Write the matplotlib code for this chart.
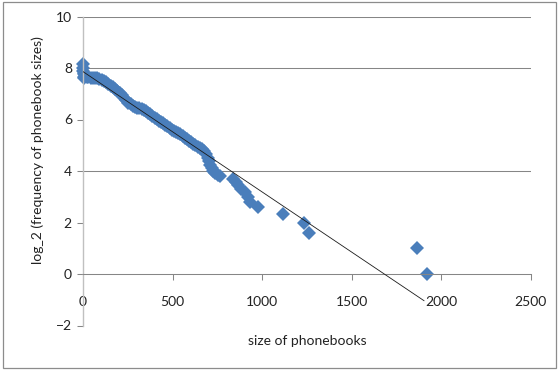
import matplotlib
matplotlib.use('Agg')
from matplotlib import pyplot as plt
from matplotlib.patches import Rectangle

plt.rcParams['font.family'] = ['Lato', 'DejaVu Sans']

# size of phonebook vs log_2 of how many phonebooks have that size
sizes = [0, 0, 2, 3, 4, 7, 8, 12, 20, 30, 42, 55, 68, 80, 92, 105, 118, 130,
         142, 155, 168, 180, 192, 205, 218, 230, 242, 254, 266, 278, 290, 302,
         315, 328, 340, 352, 364, 376, 388, 400, 412, 424, 436, 448, 460, 472,
         484, 496, 508, 520, 532, 544, 556, 568, 580, 592, 604, 616, 628, 640,
         652, 664, 676, 686, 696, 704, 712, 720, 728, 738, 752, 764,
         840, 855, 868, 885, 905, 922, 935, 980, 1120, 1232, 1262, 1866, 1920]
log_freq = [8.17, 8.0, 7.9, 7.65, 7.8, 7.75, 7.6, 7.7, 7.66, 7.64, 7.62, 7.62,
            7.63, 7.6, 7.58, 7.55, 7.5, 7.44, 7.38, 7.32, 7.25, 7.18, 7.1,
            7.04, 6.94, 6.84, 6.74, 6.66, 6.6, 6.54, 6.48, 6.45, 6.43, 6.41,
            6.38, 6.33, 6.27, 6.2, 6.13, 6.07, 6.01, 5.96, 5.91, 5.85, 5.79,
            5.73, 5.67, 5.61, 5.56, 5.52, 5.48, 5.43, 5.37, 5.3, 5.24, 5.18,
            5.12, 5.06, 5.0, 4.93, 4.88, 4.84, 4.76, 4.66, 4.52, 4.39, 4.25,
            4.12, 4.0, 3.91, 3.85, 3.81,
            3.70, 3.58, 3.46, 3.32, 3.17, 3.0, 2.81, 2.585, 2.32, 2.0, 1.585,
            1.0, 0.0]

# linear trendline
trend_x = [0, 1905]
trend_intercept = 7.86
trend_slope = -0.00467

def main():
    fig = plt.figure(figsize=(5.59, 3.74), dpi=100)
    ax = fig.add_axes([83 / 559, 48.5 / 374, 447.5 / 559, 309 / 374])

    # only these gridlines show in the reference
    for level in [4, 8, 10]:
        ax.axhline(level, color='#868686', lw=0.75, zorder=0)

    ax.plot(sizes, log_freq, 'D', color='#4a7ebb', markersize=7.6,
            markeredgewidth=0, linestyle='none', zorder=2, clip_on=False)
    trend_y = [trend_intercept + trend_slope * x for x in trend_x]
    ax.plot(trend_x, trend_y, color='#1a1a1a', lw=0.6, zorder=3)

    ax.set_xlim(0, 2500)
    ax.set_ylim(-2, 10)
    ax.set_xticks(range(0, 2501, 500))
    ax.set_yticks(range(-2, 11, 2))

    ax.spines['top'].set_visible(False)
    ax.spines['right'].set_visible(False)
    ax.spines['bottom'].set_position(('data', 0))
    ax.spines['bottom'].set_color('#868686')
    ax.spines['bottom'].set_linewidth(0.75)
    ax.spines['left'].set_color('#c0c0c0')
    ax.spines['left'].set_linewidth(1.0)

    ax.tick_params(axis='x', direction='out', length=4, width=0.75,
                   color='#868686', pad=12, labelsize=10, labelcolor='#222222')
    ax.tick_params(axis='y', direction='out', length=4, width=0.75,
                   color='#868686', pad=4, labelsize=10, labelcolor='#222222')
    for t in ax.yaxis.get_major_ticks():
        if t.get_loc() in (-2, 2, 6):
            t.tick1line.set_visible(False)
    ax.xaxis.get_major_ticks()[0].tick1line.set_visible(False)

    fig.text(307 / 559, 1 - 341 / 374, 'size of phonebooks', ha='center',
             va='center', fontsize=10, color='#222222')
    fig.text(38 / 559, 1 - 150 / 374, 'log_2 (frequency of phonebook sizes)',
             ha='center', va='center', rotation=90, fontsize=10,
             color='#222222')

    fig.patches.append(Rectangle((3 / 559, 6 / 374), 553 / 559, 366 / 374,
                                 transform=fig.transFigure, fill=False,
                                 edgecolor='#8c8c8c', lw=0.9))

    fig.savefig('out.png', dpi=100)

if __name__ == '__main__':
    main()
